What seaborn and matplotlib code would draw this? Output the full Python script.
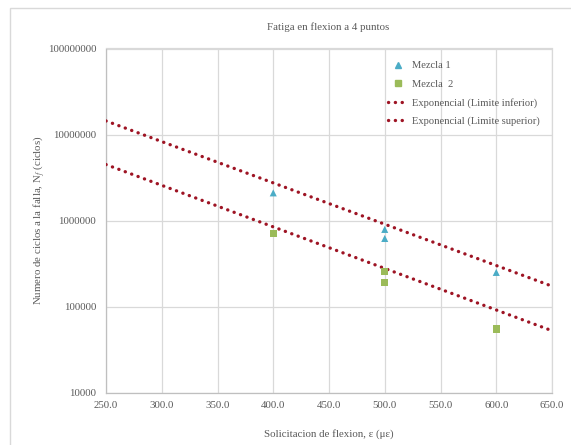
import matplotlib
matplotlib.use("Agg")
import matplotlib.pyplot as plt
from matplotlib.patches import Rectangle
from matplotlib.lines import Line2D
from matplotlib.ticker import FixedLocator, FuncFormatter
import numpy as np
import pandas as pd
import seaborn as sns

# Ensayo de fatiga en flexion a 4 puntos
mezcla1_def = [400, 500, 500, 600]
mezcla1_ciclos = [2.1e6, 7.9e5, 6.2e5, 2.5e5]
mezcla2_def = [400, 500, 500, 600]
mezcla2_ciclos = [7.0e5, 2.55e5, 1.9e5, 5.5e4]

# Lineas de tendencia exponencial (extremos del intervalo)
tend_def = [250, 650]
tend_inferior = [4.48e6, 5.25e4]
tend_superior = [1.44e7, 1.73e5]

x_ticks = [250, 300, 350, 400, 450, 500, 550, 600, 650]
y_ticks = [1e4, 1e5, 1e6, 1e7, 1e8]

sns.set_theme(style="white")
plt.rcParams["font.family"] = ["Liberation Serif", "DejaVu Serif"]
plt.rcParams["mathtext.fontset"] = "stix"

puntos = pd.DataFrame({
    "def": mezcla1_def + mezcla2_def,
    "ciclos": mezcla1_ciclos + mezcla2_ciclos,
    "serie": ["Mezcla 1"] * len(mezcla1_def) + ["Mezcla  2"] * len(mezcla2_def),
})
tendencias = pd.DataFrame({
    "def": tend_def + tend_def,
    "ciclos": tend_inferior + tend_superior,
    "serie": ["Exponencial (Limite inferior)"] * 2 + ["Exponencial (Limite superior)"] * 2,
})

fig = plt.figure(figsize=(5.71, 4.45), dpi=100)
fig.patch.set_facecolor("white")
ax = fig.add_axes([106 / 571, 1 - 392.7 / 445, (552 - 106) / 571, (392.7 - 48.5) / 445])

# Marco del area del grafico
fig.patches.append(Rectangle((10 / 571, -0.2), 1.2, 1.2 - 8 / 445,
                             transform=fig.transFigure, fill=False,
                             edgecolor="#d9d9d9", lw=1.0, zorder=0))

rojo = "#9e1424"
punteado = (0, (0.05, 2.0))
for nombre in ["Exponencial (Limite inferior)", "Exponencial (Limite superior)"]:
    sns.lineplot(data=tendencias[tendencias["serie"] == nombre], x="def", y="ciclos",
                 ax=ax, color=rojo, lw=2.4, legend=False, zorder=3,
                 linestyle=punteado, dash_capstyle="round")

sns.scatterplot(data=puntos, x="def", y="ciclos", hue="serie", style="serie",
                palette={"Mezcla 1": "#4bacc6", "Mezcla  2": "#9bbb59"},
                markers={"Mezcla 1": "^", "Mezcla  2": "s"},
                s=26, linewidth=0, ax=ax, legend=False, zorder=4)

ax.set_yscale("log")
ax.set_xlim(250, 650)
ax.set_ylim(1e4, 1e8)
ax.xaxis.set_major_locator(FixedLocator(x_ticks))
ax.yaxis.set_major_locator(FixedLocator(y_ticks))
ax.yaxis.set_minor_locator(FixedLocator([]))
ax.xaxis.set_major_formatter(FuncFormatter(lambda v, p: f"{v:.1f}"))
ax.yaxis.set_major_formatter(FuncFormatter(lambda v, p: f"{int(round(v))}"))
ax.tick_params(axis="both", length=0, labelsize=7.8, colors="#595959")
ax.tick_params(axis="y", pad=7)
ax.tick_params(axis="x", pad=6)

ax.grid(True, color="#d9d9d9", lw=0.9)
for lado in ["left", "bottom", "right", "top"]:
    ax.spines[lado].set_color("#d9d9d9")
    ax.spines[lado].set_linewidth(0.9)
ax.spines["left"].set_color("#bfbfbf")
ax.spines["bottom"].set_color("#bfbfbf")

ax.set_xlabel("Solicitacion de flexion, \u03b5 (\u03bc\u03b5)", fontsize=7.8, color="#595959", labelpad=14)
ax.set_ylabel("Numero de ciclos a la falla, N$_{f}$ (ciclos)", fontsize=7.8, color="#595959", labelpad=0.5)
fig.text(0.575, 1 - 27 / 445, "Fatiga en flexion a 4 puntos", ha="center", va="center",
         fontsize=7.8, color="#595959")

handles = [
    Line2D([], [], marker="^", color="#4bacc6", ls="none", markersize=5),
    Line2D([], [], marker="s", color="#9bbb59", ls="none", markersize=4.5),
    Line2D([], [], color=rojo, lw=2.4, linestyle=punteado, dash_capstyle="round"),
    Line2D([], [], color=rojo, lw=2.4, linestyle=punteado, dash_capstyle="round"),
]
labels = ["Mezcla 1", "Mezcla  2", "Exponencial (Limite inferior)", "Exponencial (Limite superior)"]
leg = ax.legend(handles, labels, loc="upper right", bbox_to_anchor=(0.99, 0.985),
                frameon=False, fontsize=7.6, handlelength=1.9, handletextpad=0.45,
                labelspacing=0.85, borderaxespad=0.3)
for t in leg.get_texts():
    t.set_color("#595959")

fig.savefig("out.png", dpi=100, facecolor="white")
